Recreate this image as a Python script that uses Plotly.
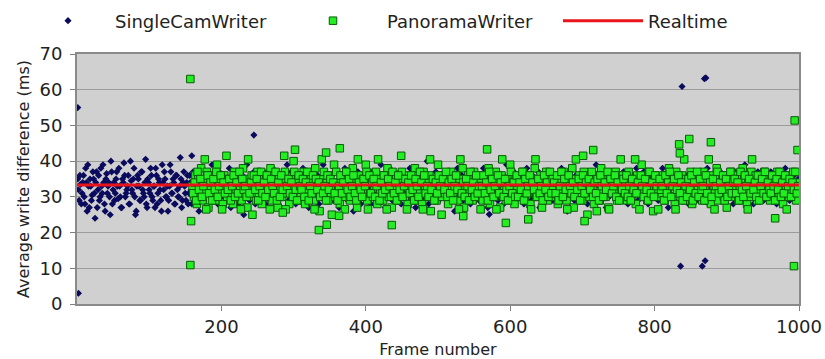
import numpy as np
import plotly.graph_objects as go

# ---- data ----
# SingleCamWriter, odd frames 1..999
single_ms = [
    35,29,33.5,31,36,28,34,39,27,33,30.5,35,24,37,32,29,38,31,34,26,36.5,33,30,40,28,
    34,31,37,29.5,33,27,35,39.5,30,32,36,28,34.5,31,38,25,33,35,29,37,32,30,40.5,27,34,
    31,36,29,33,38,28,35,32,26,34,37,30,33,29,39,31,35,28,36,32,30,41,27,34,33,
    29,36,31,34,28,37,33,30,35,26,32,38,29,34,31,36,27,33,39,30,35,32,28,37,31,
    34,30,36,29,33,38,27,35,31,32,37,28,34,30,36,25,33,39,31,29,35,32,37,28,34,
    31,35,30,33,37,28,36,32,29,34,38,27,33,31,35,30,36,26,34,32,39,29,33,37,31,
    35,28,33,30,36,32,38,29,34,31,27,35,33,37,30,32,36,28,34,31,39,29,35,33,30,
    32,36,29,34,31,37,27,33,35,30,38,32,29,36,34,31,26,35,33,37,30,28,34,36,32,
    30,35,33,28,37,31,34,29,36,32,39,30,33,27,35,31,38,34,29,32,36,30,33,37,28,
    34,31,36,29,33,38,30,35,32,27,34,37,31,33,29,36,32,40,28,35,31,34,30,37,33,
    29,35,32,36,30,34,28,37,33,31,35,26,34,38,30,32,36,29,33,35,31,37,28,34,32,
    36,30,33,29,35,32,38,31,34,27,36,33,30,35,31,37,29,34,32,36,28,33,39,30,35,
    31,34,37,29,33,30,36,32,35,28,34,38,31,33,29,36,30,35,32,37,27,34,31,36,33,
    30,35,32,37,29,34,31,36,28,33,38,30,35,32,26,34,37,31,33,29,36,32,35,30,34,
    37,31,33,28,36,32,35,30,34,39,29,33,31,36,32,35,27,34,30,37,33,31,35,29,36,
    32,34,30,37,31,35,28,33,36,30,34,32,38,29,35,31,33,37,30,34,28,36,32,35,31,
    33,36,29,34,31,38,30,35,32,27,36,33,30,34,31,37,29,35,32,34,30,36,33,28,35,
    31,34,37,30,33,29,36,32,35,31,34,38,28,33,36,30,35,32,29,34,37,31,33,30,36,
    34,30,35,32,28,37,33,31,36,29,34,32,39,30,35,33,31,36,28,34,32,37,30,33,35,
    29,36,32,34,31,37,30,33,35,28,34,36,31,33,30,38,32,35,29,34,31,36,33,30,35,
]
# SingleCamWriter, even frames 2..158
single_ms_early_even = [
    32,36,28,34,30,38,26,33,35,29,37,31,34,27,36,30,33,39,28,35,31,34,25,37,32,
    29,35,33,38,30,27,34,36,31,33,28,40,32,35,30,26,36,33,29,37,31,34,28,35,32,
    38,30,33,27,36,31,34,29,39,32,35,30,26,33,37,31,34,28,36,30,33,35,29,37,31,
    34,28,36,32,
]
single_extra_frames = [1, 2, 159, 245, 571, 836, 838, 866, 869, 870, 871]
single_extra_ms = [55, 3, 41.5, 47.3, 25.1, 10.6, 60.9, 10.6, 63.1, 12.1, 63.3]

# PanoramaWriter, even frames 160..1000
pano_ms_even = [
    33,30,36,28,35,31,38,29,34,32,37,27,33,36,30,34,29,39,31,35,32,28,36,33,30,
    35,31,34,28,37,32,30,36,33,29,38,31,34,27,35,32,36,30,33,29,37,31,34,28,35,
    32,36,30,33,38,29,34,31,35,27,36,32,30,34,37,31,33,28,35,32,40,30,34,29,36,
    31,33,37,28,35,32,30,36,34,29,38,31,33,26,35,30,37,32,34,29,36,31,33,39,30,
    34,32,28,36,31,35,30,37,33,29,34,38,31,32,27,36,33,30,35,32,39,29,34,31,36,
    30,33,37,28,35,32,34,29,36,31,38,30,33,27,35,32,36,29,34,31,37,33,30,35,28,
    36,32,34,30,38,29,33,31,35,28,37,32,34,30,36,26,33,31,35,29,39,32,34,30,36,
    31,35,28,33,37,30,34,32,36,29,35,31,38,27,33,30,36,32,34,29,37,31,35,33,30,
    34,29,36,32,31,38,28,35,33,30,37,31,34,27,36,32,33,29,35,30,39,31,34,28,36,
    32,35,30,33,37,29,34,31,36,28,35,32,38,30,33,31,36,27,34,32,37,29,35,30,33,
    36,31,34,28,35,32,30,37,33,29,36,31,34,38,27,35,32,30,36,33,29,37,31,34,32,
    30,35,33,28,36,31,34,29,38,32,35,30,33,27,36,31,34,32,37,29,35,30,33,36,31,
    34,29,37,32,30,35,33,28,36,31,34,39,30,32,35,29,37,31,33,26,36,32,34,30,35,
    31,36,29,34,32,38,30,33,35,28,37,31,34,30,36,32,29,35,33,31,37,28,34,36,30,
    33,35,31,29,37,32,34,30,36,28,35,33,31,38,29,34,32,36,30,33,27,35,31,37,32,
    34,30,36,29,33,31,38,32,35,28,34,30,37,33,31,36,29,35,32,34,30,37,31,33,35,
    29,36,32,34,30,37,31,35,33,28,36,32,34,30,35,31,37,33,29,34,32,
]
# PanoramaWriter, odd frames 161..999
pano_ms_odd = [
    31,34,29,37,32,35,30,33,40.5,26.5,36,31,34,29,35,32,37,30,33,36,26.5,34,31,41.5,32,
    35,29,33,36,30,34,31,37,26.5,35,32,33,30,40.5,31,34,25,36,32,35,29,33,37,31,34,
    30,36,32,26.5,35,33,31,37,29,34,30,36,32,41.5,26.5,33,35,31,34,30,37,32,29,36,33,
    32,35,30,34,37,29,33,31,36,26.5,35,32,34,30,40.5,31,33,29,36,32,35,25,34,31,37,
    29,33,36,31,34,26.5,37,32,35,30,33,36,31,29,40.5,34,32,30,35,33,37,26.5,36,31,34,
    35,30,33,40.5,29,34,31,36,32,26.5,35,33,30,37,31,34,29,36,32,41.5,30,33,35,26.5,34,
    31,36,32,29,35,33,30,37,34,26.5,36,31,33,30,40.5,32,35,29,34,31,36,33,25,35,32,
    37,30,34,31,35,29,33,36,32,26.5,40.5,31,34,30,35,33,29,37,32,34,30,36,31,33,26.5,
    33,36,31,34,29,37,32,35,30,33,26.5,36,31,34,40.5,30,35,32,29,33,37,31,34,30,36,
    30,34,32,37,29,35,31,33,36,26.5,34,32,40.5,30,35,31,33,29,36,32,34,30,37,31,35,
    34,31,36,29,33,37,30,35,32,26.5,36,33,31,34,30,40.5,32,35,29,33,36,31,34,25,35,
    32,37,30,34,31,35,29,36,33,30,34,32,37,26.5,35,31,33,36,30,34,29,40.5,32,35,31,
    36,30,33,29,35,32,40.5,31,34,26.5,36,33,30,35,32,29,37,31,34,30,36,33,26.5,35,32,
    33,29,36,31,34,37,30,33,35,26.5,32,36,31,34,29,40.5,33,30,35,32,36,29,34,31,37,
    30,35,32,33,29,36,31,40.5,34,30,35,26.5,33,37,31,34,32,36,29,35,30,33,37,31,34,
    35,31,34,29,37,32,30,36,33,26.5,35,31,40.5,32,34,30,36,29,33,35,31,37,30,34,32,
    31,36,33,29,35,32,37,30,34,31,36,26.5,33,35,30,34,32,37,31,33,
]
pano_extra_frames = [157, 157, 158, 285, 302, 335, 345, 346, 363, 364, 436, 535, 568, 594,
                     625, 701, 703, 715, 720, 834, 835, 848, 878, 967, 993, 994, 998]
pano_extra_ms = [63, 10.9, 23.2, 25.6, 43.2, 20.7, 42.4, 22.2, 24.7, 43.6, 22.1, 24.6, 43.3, 22.7,
                 23.7, 41.5, 23.2, 43.1, 26, 44.7, 42.2, 46.2, 45.3, 24, 10.6, 51.4, 43.1]

realtime_frames = [0, 1000]
realtime_ms = [33.33, 33.33]

x_ticks = [200, 400, 600, 800, 1000]
y_ticks = [0, 10, 20, 30, 40, 50, 60, 70]

# ---- build ----
single_frames = list(np.arange(1, 1 + 2 * len(single_ms), 2))
single_frames_early = list(np.arange(2, 2 + 2 * len(single_ms_early_even), 2))
pano_frames_even = list(np.arange(160, 160 + 2 * len(pano_ms_even), 2))
pano_frames_odd = list(np.arange(161, 161 + 2 * len(pano_ms_odd), 2))

FONT = "DejaVu Sans"
TXT = "#222222"
fig = go.Figure()
fig.add_trace(go.Scatter(
    x=single_frames + single_frames_early + single_extra_frames,
    y=single_ms + single_ms_early_even + single_extra_ms,
    mode="markers", name="SingleCamWriter", legend="legend",
    marker=dict(symbol="diamond", size=5.5, color="#0b0b5e", line=dict(width=0)),
))
fig.add_trace(go.Scatter(
    x=pano_frames_even + pano_frames_odd + pano_extra_frames,
    y=pano_ms_even + pano_ms_odd + pano_extra_ms,
    mode="markers", name="PanoramaWriter", legend="legend2",
    marker=dict(symbol="square", size=7.5, color="#22ee22", line=dict(width=1, color="#0a5a0a")),
))
fig.add_trace(go.Scatter(
    x=realtime_frames, y=realtime_ms, mode="lines", name="Realtime", legend="legend3",
    line=dict(color="#e8141c", width=3),
))

def leg(x0, w):
    return dict(
        orientation="h", xref="container", yref="container",
        x=x0 / 825, y=1 - 21 / 359, xanchor="left", yanchor="middle",
        font=dict(size=18, family=FONT, color=TXT),
        itemwidth=w, bgcolor="rgba(0,0,0,0)", borderwidth=0,
    )

fig.update_layout(
    width=825, height=359,
    margin=dict(l=77, r=26, t=54, b=55, autoexpand=False),
    paper_bgcolor="white", plot_bgcolor="#d0d0d0",
    font=dict(family=FONT, color=TXT),
    showlegend=True,
    legend=leg(21, 84),
    legend2=leg(279, 98),
    legend3=leg(558, 80),
)
fig.update_xaxes(
    range=[0, 1000], tickvals=x_ticks, ticktext=[str(v) for v in x_ticks],
    ticks="outside", ticklen=5, tickcolor="#808080", automargin=False,
    showline=True, linecolor="#8a8a8a", linewidth=2, mirror=True,
    showgrid=False, zeroline=False,
    tickfont=dict(size=18, family=FONT, color=TXT),
    title=dict(text="Frame number", font=dict(size=16, family=FONT, color=TXT), standoff=8),
)
fig.update_yaxes(
    range=[0, 70], tickvals=y_ticks,
    ticks="outside", ticklen=5, tickcolor="#808080", ticklabelstandoff=4, automargin=False,
    showline=True, linecolor="#8a8a8a", linewidth=2, mirror=True,
    showgrid=True, gridcolor="#9c9c9c", gridwidth=1, zeroline=False,
    tickfont=dict(size=18, family=FONT, color=TXT),
    title=dict(text="Average write difference (ms)", font=dict(size=16, family=FONT, color=TXT), standoff=6),
)

fig.write_html("out.html")
